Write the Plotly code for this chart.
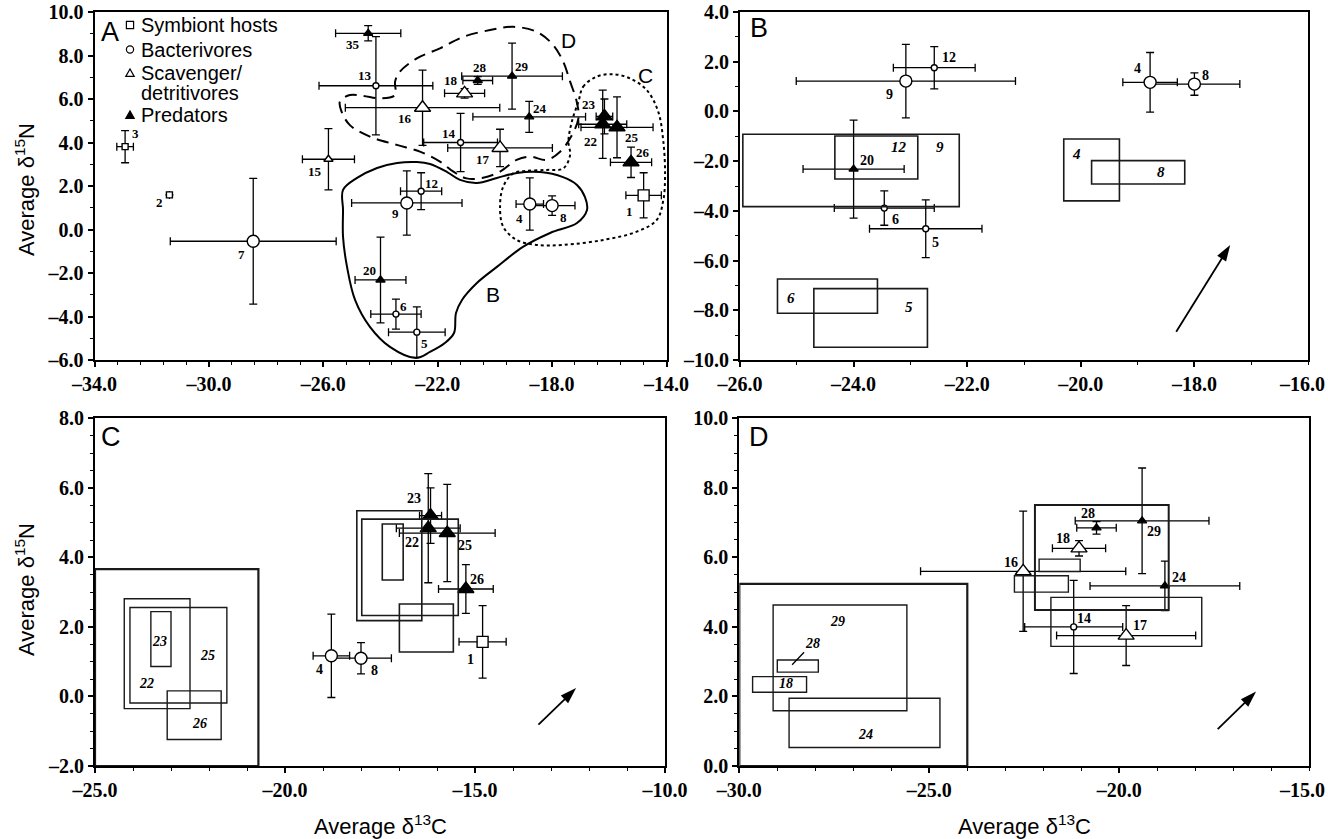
import plotly.graph_objects as go

W, H = 1328, 839

# ---------------- data ----------------
ids = [1, 2, 3, 4, 5, 6, 7, 8, 9, 12, 13, 14, 15, 16, 17, 18, 20, 22, 23, 24, 25, 26, 28, 29, 35]
groups = ["host", "host", "host", "bact", "bact", "bact", "bact", "bact", "bact", "bact", "bact", "bact",
          "scav", "scav", "scav", "scav", "pred", "pred", "pred", "pred", "pred", "pred", "pred", "pred", "pred"]
d13C = [-14.80, -31.38, -32.93, -18.78, -22.73, -23.46, -28.45, -18.00, -23.08, -22.58, -24.16, -21.20,
        -25.82, -22.53, -19.82, -21.06, -24.00, -16.23, -16.17, -18.80, -15.73, -15.24, -20.60, -19.40, -24.43]
d15N = [1.57, 1.59, 3.81, 1.17, -4.72, -3.89, -0.54, 1.10, 1.22, 1.76, 6.61, 4.00,
        3.23, 5.60, 3.75, 6.26, -2.32, 4.84, 5.20, 5.18, 4.70, 3.09, 6.85, 7.05, 9.02]
sd13C = [0.62, None, 0.29, 0.48, 0.99, 0.88, 2.90, 0.80, 1.93, 0.72, 1.99, 1.29,
         0.91, 2.70, 1.83, 0.70, 0.89, 0.84, 0.29, 1.97, 1.26, 0.72, 0.52, 1.76, 1.14]
sd15N = [1.04, None, 0.74, 1.20, 1.16, 0.69, 2.89, 0.45, 1.48, 0.85, 2.26, 1.34,
         1.41, 1.73, 0.86, 0.22, 1.97, 1.57, 0.80, 0.71, 1.40, 0.70, 0.18, 1.52, 0.35]

group_order = ["host", "bact", "scav", "pred"]
legend_lines = [["Symbiont hosts"], ["Bacterivores"], ["Scavenger/", "detritivores"], ["Predators"]]

panelB_ids = [4, 5, 6, 8, 9, 12, 20]
panelC_ids = [1, 4, 8, 22, 23, 25, 26]
panelD_ids = [14, 16, 17, 18, 24, 28, 29]

# outlines of groups B, C, D in panel A (d13C, d15N)
hullB_x = [-25.31, -25.31, -25.31, -25.17, -24.89, -24.37, -23.67, -22.76, -22.27, -21.75, -21.43, -21.36,
           -21.15, -20.63, -19.93, -19.02, -18.07, -17.13, -16.78, -16.85, -17.13, -17.62, -18.42, -19.23,
           -19.93, -20.63, -21.22, -21.67, -22.27, -22.72, -23.42, -24.12, -24.82, -25.31]
hullB_y = [1.82, 0.90, -0.34, -1.72, -3.24, -4.48, -5.40, -5.91, -5.63, -5.22, -4.76, -3.84,
           -3.24, -2.46, -1.72, -0.80, -0.16, 0.30, 0.90, 1.49, 2.05, 2.41, 2.64, 2.60,
           2.37, 2.14, 2.28, 2.64, 3.01, 3.10, 3.06, 2.83, 2.37, 1.82]
hullD_x = [-25.07, -25.42, -25.36, -25.07, -24.37, -23.43, -22.62, -21.92, -21.45, -20.99, -20.41, -19.82,
           -19.24, -18.77, -18.19, -17.72, -17.37, -17.08, -17.14, -17.37, -17.61, -17.96, -18.54, -19.36,
           -20.17, -21.10, -21.92, -22.73, -23.32, -23.49, -23.49, -24.02, -24.60, -25.07]
hullD_y = [6.18, 5.88, 5.42, 4.80, 4.27, 3.89, 3.58, 3.12, 2.66, 2.35, 2.38, 2.66,
           3.20, 3.35, 3.20, 3.58, 4.19, 5.11, 5.88, 6.80, 7.71, 8.48, 9.09, 9.32,
           9.17, 8.86, 8.33, 7.87, 7.26, 6.80, 6.18, 6.03, 6.14, 6.18]
hullC_x = [-17.08, -16.91, -16.44, -15.86, -15.28, -14.69, -14.29, -14.11, -14.05, -14.11, -14.34, -15.04,
           -16.21, -17.61, -18.54, -19.24, -19.71, -19.82, -19.71, -19.36, -18.95, -18.19, -17.61, -17.37,
           -17.43, -17.31, -17.08]
hullC_y = [5.88, 6.57, 7.03, 7.14, 6.95, 6.41, 5.42, 4.04, 2.51, 1.36, 0.44, -0.10,
           -0.48, -0.71, -0.71, -0.48, 0.13, 1.05, 1.97, 2.58, 2.69, 2.74, 2.81, 3.43,
           4.04, 4.96, 5.88]
hull_label_text = ["B", "C", "D"]
hull_label_x = [-20.08, -14.75, -17.44]
hull_label_y = [-3.01, 7.10, 8.71]

# boxes, panel B
boxB_label = ["9", "12", "6", "5", "4", "8"]
boxB_x0 = [-25.95, -24.33, -25.34, -24.70, -20.30, -19.81]
boxB_x1 = [-22.14, -22.87, -23.58, -22.70, -19.32, -18.17]
boxB_y0 = [-3.83, -2.72, -8.12, -9.49, -3.60, -2.92]
boxB_y1 = [-0.92, -0.99, -6.74, -7.13, -1.11, -1.98]
boxB_lx = [-22.48, -23.20, -25.10, -23.02, -20.08, -18.59]
boxB_ly = [-1.42, -1.42, -7.49, -7.85, -1.71, -2.45]

# boxes, panel C
boxC_src = [-25.0, -20.70, -2.0, 3.66]
boxC_label = ["22", "25", "23", "26"]
boxC_x0 = [-24.23, -24.08, -23.53, -23.10]
boxC_x1 = [-22.50, -21.53, -23.00, -21.68]
boxC_y0 = [-0.35, -0.19, 0.86, -1.24]
boxC_y1 = [2.81, 2.56, 2.44, 0.16]
boxC_lx = [-23.64, -22.03, -23.31, -22.24]
boxC_ly = [0.36, 1.17, 1.58, -0.79]
boxC2_x0 = [-18.11, -17.98, -17.44, -16.99]
boxC2_x1 = [-16.40, -15.44, -16.89, -15.57]
boxC2_y0 = [2.18, 2.33, 3.35, 1.28]
boxC2_y1 = [5.34, 5.10, 4.96, 2.66]

# boxes, panel D
boxD_src = [-30.0, -24.0, 0.0, 5.24]
boxD_label = ["29", "28", "18", "24"]
boxD_x0 = [-29.11, -29.00, -29.65, -28.69]
boxD_x1 = [-25.59, -27.92, -28.23, -24.72]
boxD_y0 = [1.59, 2.70, 2.12, 0.53]
boxD_y1 = [4.63, 3.05, 2.57, 1.95]
boxD_lx = [-27.41, -28.07, -28.77, -26.67]
boxD_ly = [4.16, 3.53, 2.36, 0.92]
boxD2_x0 = [-22.22, -22.11, -22.76, -21.80]
boxD2_x1 = [-18.70, -21.03, -21.34, -17.83]
boxD2_y0 = [4.49, 5.59, 5.00, 3.44]
boxD2_y1 = [7.51, 5.95, 5.47, 4.85]
leader28 = [-28.61, 2.91]

# arrows (tail -> head) in panels B, C, D
arrow_tail_x = [-18.32, -13.33, -17.41]
arrow_tail_y = [-8.86, -0.81, 1.06]
arrow_head_x = [-17.37, -12.34, -16.40]
arrow_head_y = [-5.37, 0.24, 2.14]

# tick labels
xticks_A = [-34, -30, -26, -22, -18, -14]
yticks_A = [-6, -4, -2, 0, 2, 4, 6, 8, 10]
xticks_B = [-26, -24, -22, -20, -18, -16]
yticks_B = [-10, -8, -6, -4, -2, 0, 2, 4]
xticks_C = [-25, -20, -15, -10]
yticks_C = [-2, 0, 2, 4, 6, 8]
xticks_D = [-30, -25, -20, -15]
yticks_D = [0, 2, 4, 6, 8, 10]

# ---------------- styles ----------------
SERIF = "Liberation Serif, Times New Roman, serif"
SANS = "Liberation Sans, Arial, Helvetica, sans-serif"
big_ids = {1, 4, 7, 8, 9, 16, 17, 18, 22, 23, 25, 26}
sym = {"host": "square", "bact": "circle", "scav": "triangle-up", "pred": "triangle-up"}
fill = {"host": "white", "bact": "white", "scav": "white", "pred": "black"}
size_big = {"host": 11, "bact": 12, "scav": 14, "pred": 14}
size_small = {"host": 6, "bact": 6, "scav": 8, "pred": 8}

labels_A = {35: (-15, 11), 13: (-11, -10), 16: (-18, 11), 18: (-14, -13), 28: (2, -13), 29: (10, -10),
            24: (11, -8), 14: (-12, -9), 17: (-17, 12), 23: (-15, -12), 22: (-12, 17), 25: (15, 10),
            26: (12, -10), 12: (10, -8), 9: (-11, 11), 4: (-10, 14), 8: (11, 12), 1: (-14, 16),
            20: (-11, -9), 6: (8, -8), 5: (8, 11), 3: (10, -13), 2: (-10, 8), 7: (-12, 13), 15: (-13, 12)}
labels_B = {9: (-16, 13), 12: (15, -10), 20: (13, -9), 6: (11, 11), 5: (10, 14), 4: (-13, -14), 8: (11, -9)}
labels_C = {23: (-17, -17), 22: (-16, 14), 25: (18, 12), 26: (11, -10), 1: (-12, 18), 8: (13, 12), 4: (-12, 14)}
labels_D = {28: (-9, -14), 29: (12, 11), 18: (-16, -10), 16: (-12, -9), 24: (14, -8), 14: (10, -8), 17: (14, -10)}


def lab(v):
    s = f"{abs(v):.1f}"
    return ("\u2013" + s) if v < 0 else s


def fmt(v):
    return "<b>" + lab(v) + "</b>"


def dom_x(a, b):
    return [a / W, b / W]


def dom_y(top, bot):
    return [1 - bot / H, 1 - top / H]


def px(x):
    return x / W


def py(y):
    return 1 - y / H


fig = go.Figure()

# group outlines in panel A
for hx, hy, dash in [(hullB_x, hullB_y, "solid"), (hullD_x, hullD_y, "12px,7px"), (hullC_x, hullC_y, "dot")]:
    fig.add_trace(go.Scatter(x=hx, y=hy, mode="lines",
                             line=dict(color="black", width=2, dash=dash, shape="spline", smoothing=1.0),
                             showlegend=False, hoverinfo="skip", xaxis="x", yaxis="y"))


def add_points(panel_ids, xa, ya):
    for g in group_order:
        idx = [i for i, pid in enumerate(ids) if (panel_ids is None or pid in panel_ids) and groups[i] == g]
        if not idx:
            continue
        fig.add_trace(go.Scatter(
            x=[d13C[i] for i in idx], y=[d15N[i] for i in idx], mode="markers",
            marker=dict(symbol=sym[g], color=fill[g], opacity=1,
                        size=[size_big[g] if ids[i] in big_ids else size_small[g] for i in idx],
                        line=dict(color="black", width=1.4)),
            error_x=dict(type="data", array=[sd13C[i] for i in idx], color="black", thickness=1.3, width=4),
            error_y=dict(type="data", array=[sd15N[i] for i in idx], color="black", thickness=1.3, width=4),
            showlegend=False, xaxis=xa, yaxis=ya, hoverinfo="x+y+text",
            text=[str(ids[i]) for i in idx]))


add_points(None, "x", "y")
add_points(panelB_ids, "x2", "y2")
add_points(panelC_ids, "x3", "y3")
add_points(panelD_ids, "x4", "y4")

# arrows
for k, (xa, ya) in enumerate([("x2", "y2"), ("x3", "y3"), ("x4", "y4")]):
    fig.add_trace(go.Scatter(x=[arrow_tail_x[k], arrow_head_x[k]], y=[arrow_tail_y[k], arrow_head_y[k]],
                             mode="lines+markers", line=dict(color="black", width=1.8),
                             marker=dict(symbol=["circle", "arrow"], size=[0, 17], color="black",
                                         angleref="previous", opacity=1, line=dict(width=0)),
                             showlegend=False, hoverinfo="skip", xaxis=xa, yaxis=ya))

shapes = []
annotations = []


def rect(x0, x1, y0, y1, xr, yr, w):
    shapes.append(dict(type="rect", xref=xr, yref=yr, x0=x0, x1=x1, y0=y0, y1=y1,
                       line=dict(color="#1a1a1a", width=w), fillcolor="rgba(0,0,0,0)", layer="above"))


for i in range(len(boxB_label)):
    rect(boxB_x0[i], boxB_x1[i], boxB_y0[i], boxB_y1[i], "x2", "y2", 1.6)
    annotations.append(dict(x=boxB_lx[i], y=boxB_ly[i], xref="x2", yref="y2", text=boxB_label[i],
                            showarrow=False, font=dict(family=SERIF, size=15, color="black",
                                                       weight="bold", style="italic")))
rect(*boxC_src, "x3", "y3", 2.2)
for i in range(len(boxC_label)):
    rect(boxC_x0[i], boxC_x1[i], boxC_y0[i], boxC_y1[i], "x3", "y3", 1.4)
    rect(boxC2_x0[i], boxC2_x1[i], boxC2_y0[i], boxC2_y1[i], "x3", "y3", 1.6)
    annotations.append(dict(x=boxC_lx[i], y=boxC_ly[i], xref="x3", yref="y3", text=boxC_label[i],
                            showarrow=False, font=dict(family=SERIF, size=14, color="black",
                                                       weight="bold", style="italic")))
rect(*boxD_src, "x4", "y4", 2.2)
for i in range(len(boxD_label)):
    rect(boxD_x0[i], boxD_x1[i], boxD_y0[i], boxD_y1[i], "x4", "y4", 1.4)
    rect(boxD2_x0[i], boxD2_x1[i], boxD2_y0[i], boxD2_y1[i], "x4", "y4", 2.0 if i == 0 else 1.4)
    fnt = dict(family=SERIF, size=14, color="black", weight="bold", style="italic")
    if boxD_label[i] == "28":
        annotations.append(dict(x=leader28[0], y=leader28[1], xref="x4", yref="y4",
                                ax=boxD_lx[i], ay=boxD_ly[i], axref="x4", ayref="y4",
                                text=boxD_label[i], showarrow=True, arrowhead=0, arrowwidth=1.3,
                                arrowcolor="black", standoff=0, startstandoff=0, font=fnt))
    else:
        annotations.append(dict(x=boxD_lx[i], y=boxD_ly[i], xref="x4", yref="y4", text=boxD_label[i],
                                showarrow=False, font=fnt))

# point labels
for labels, xr, yr, fs in [(labels_A, "x", "y", 13), (labels_B, "x2", "y2", 14),
                           (labels_C, "x3", "y3", 14), (labels_D, "x4", "y4", 14)]:
    for pid, (dx, dy) in labels.items():
        i = ids.index(pid)
        annotations.append(dict(x=d13C[i], y=d15N[i], xref=xr, yref=yr, text=str(pid), showarrow=False,
                                xshift=dx, yshift=-dy,
                                font=dict(family=SERIF, size=fs, color="black", weight="bold")))

# group outline labels
for t, hx, hy in zip(hull_label_text, hull_label_x, hull_label_y):
    annotations.append(dict(x=hx, y=hy, xref="x", yref="y", text=t, showarrow=False,
                            font=dict(family=SANS, size=21, color="black")))

# panel letters
for t, x0, y0 in [("A", 110.5, 32), ("B", 758.5, 28), ("C", 111, 437), ("D", 759, 437)]:
    annotations.append(dict(x=px(x0), y=py(y0), xref="paper", yref="paper", text=t, showarrow=False,
                            xanchor="center", yanchor="middle", font=dict(family=SANS, size=27, color="black")))

# legend (symbols + text) in panel A
leg_sym_x = 130
leg_rows = [25, 49.5, 73, 115]
for g, row, lines in zip(group_order, leg_rows, legend_lines):
    s = 3.6
    if sym[g] == "square":
        shapes.append(dict(type="rect", xref="paper", yref="paper", x0=px(leg_sym_x - s), x1=px(leg_sym_x + s),
                           y0=py(row + s), y1=py(row - s), line=dict(color="black", width=1.2),
                           fillcolor="white", layer="above"))
    elif sym[g] == "circle":
        shapes.append(dict(type="circle", xref="paper", yref="paper", x0=px(leg_sym_x - s), x1=px(leg_sym_x + s),
                           y0=py(row + s), y1=py(row - s), line=dict(color="black", width=1.2),
                           fillcolor="white", layer="above"))
    else:
        path = "M {:.5f},{:.5f} L {:.5f},{:.5f} L {:.5f},{:.5f} Z".format(
            px(leg_sym_x - 4.2), py(row + 3.4), px(leg_sym_x + 4.2), py(row + 3.4), px(leg_sym_x), py(row - 4))
        shapes.append(dict(type="path", xref="paper", yref="paper", path=path,
                           line=dict(color="black", width=1.2), fillcolor=fill[g], layer="above"))
    for k, ln in enumerate(lines):
        annotations.append(dict(x=px(139), y=py(row + 20.5 * k), xref="paper", yref="paper", text=ln,
                                showarrow=False, xanchor="left", yanchor="middle",
                                font=dict(family=SANS, size=20, color="black")))

# axis titles
for y0 in [190, 590]:
    annotations.append(dict(x=px(25), y=py(y0), xref="paper", yref="paper",
                            text="Average \u03b4<sup>15</sup>N", textangle=-90, showarrow=False,
                            xanchor="center", yanchor="middle", font=dict(family=SANS, size=22, color="black")))
for x0 in [380, 1024]:
    annotations.append(dict(x=px(x0), y=py(825), xref="paper", yref="paper",
                            text="Average \u03b4<sup>13</sup>C", showarrow=False,
                            xanchor="center", yanchor="middle", font=dict(family=SANS, size=22, color="black")))

# last x tick labels of the right-hand panels sit at the page edge: right-aligned so they stay whole
for last, y0 in [(xticks_B[-1], 384), (xticks_D[-1], 790)]:
    annotations.append(dict(x=px(1327), y=py(y0), xref="paper", yref="paper", text=fmt(last),
                            showarrow=False, xanchor="right", yanchor="middle",
                            font=dict(family=SERIF, size=20, color="black")))


def axis(dom, rng, ticks, minor_dtick, anchor, drop_last=False):
    tv = ticks[:-1] if drop_last else ticks
    return dict(domain=dom, range=rng, tickmode="array", tickvals=tv, ticktext=[fmt(t) for t in tv],
                ticks="outside", ticklen=5, tickwidth=1.5, tickcolor="black",
                showline=True, linecolor="black", linewidth=2, mirror=True,
                showgrid=False, zeroline=False, anchor=anchor, fixedrange=True, automargin=False,
                ticklabeloverflow="allow",
                tickfont=dict(family=SERIF, size=20, color="black"),
                minor=dict(tickmode="linear", tick0=rng[0], dtick=minor_dtick, ticks="outside",
                           ticklen=3, tickwidth=1.2, tickcolor="black", showgrid=False))


fig.update_layout(
    width=W, height=H, margin=dict(l=0, r=0, t=0, b=0, pad=0, autoexpand=False),
    paper_bgcolor="white", plot_bgcolor="white",
    xaxis=axis(dom_x(94.5, 666.5), [-34, -14], xticks_A, 0.8, "y"),
    yaxis=axis(dom_y(12, 360), [-6, 10], yticks_A, 1, "x"),
    xaxis2=axis(dom_x(740, 1308), [-26, -16], xticks_B, 1, "y2", drop_last=True),
    yaxis2=axis(dom_y(12, 360), [-10, 4], yticks_B, 1, "x2"),
    xaxis3=axis(dom_x(95, 665), [-25, -10], xticks_C, 1, "y3"),
    yaxis3=axis(dom_y(418.3, 766), [-2, 8], yticks_C, 0.5, "x3"),
    xaxis4=axis(dom_x(739.3, 1309.3), [-30, -15], xticks_D, 1, "y4", drop_last=True),
    yaxis4=axis(dom_y(418.3, 766), [0, 10], yticks_D, 0.5, "x4"),
    shapes=shapes, annotations=annotations,
    showlegend=False,
)

fig.write_html("out.html", config={"responsive": False, "displayModeBar": False})
